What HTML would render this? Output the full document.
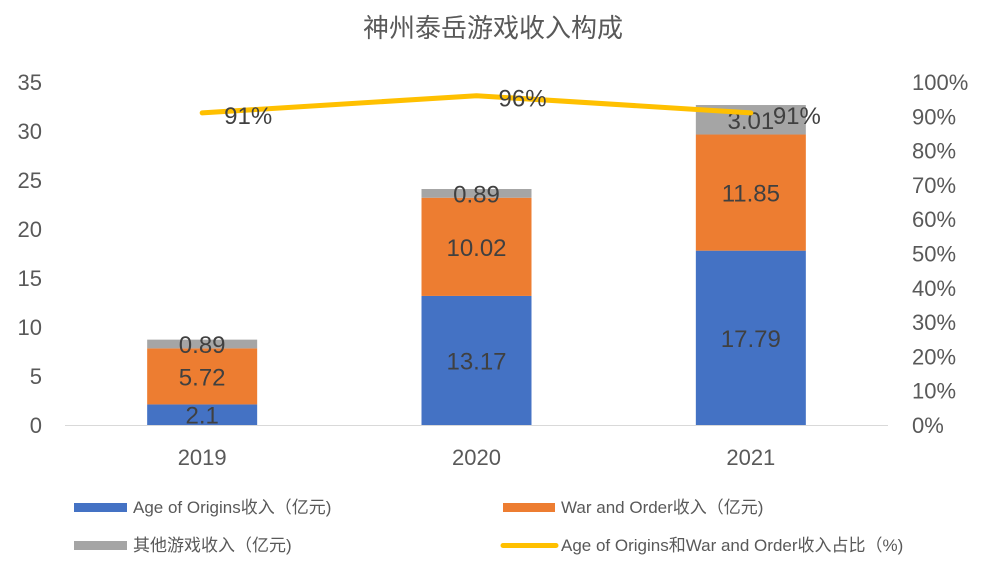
<!DOCTYPE html>
<html><head><meta charset="utf-8">
<style>
body{margin:0;background:#fff;}
svg text{font-family:"Liberation Sans","Noto Sans CJK SC",sans-serif;}
</style></head>
<body>
<svg id="chart" width="981" height="564" xmlns="http://www.w3.org/2000/svg">
<rect width="981" height="564" fill="#fff"/>
<text x="493" y="37" text-anchor="middle" font-size="26" fill="#595959">神州泰岳游戏收入构成</text>
<g id="axes"></g>
<g id="bars"></g>
<g id="line"></g>
<g id="legend">
<rect x="74" y="503" width="53" height="9" fill="#4472C4"/>
<text x="133" y="513" font-size="17" fill="#595959">Age of Origins收入（亿元)</text>
<rect x="503" y="503" width="52" height="9" fill="#ED7D31"/>
<text x="561" y="513" font-size="17" fill="#595959">War and Order收入（亿元)</text>
<rect x="74" y="541" width="53" height="9" fill="#A5A5A5"/>
<text x="133" y="551" font-size="17" fill="#595959">其他游戏收入（亿元)</text>
<line x1="503" y1="545.5" x2="556" y2="545.5" stroke="#FFC000" stroke-width="5" stroke-linecap="round"/>
<text x="561" y="551" font-size="17" fill="#595959">Age of Origins和War and Order收入占比（%)</text>
</g>
</svg>
<script>
const categories = ["2019","2020","2021"];
const ageOfOrigins = [2.1, 13.17, 17.79];
const warAndOrder = [5.72, 10.02, 11.85];
const otherGames = [0.89, 0.89, 3.01];
const sharePct = [91, 96, 91];
const leftTicks = [0,5,10,15,20,25,30,35];
const rightTicks = [0,10,20,30,40,50,60,70,80,90,100];

const NS="http://www.w3.org/2000/svg";
const x0=65, x1=888, yBase=425, yTop=82;
const yL=v=>yBase-(v/35)*(yBase-yTop);
const yR=v=>yBase-(v/100)*(yBase-yTop);
const band=(x1-x0)/categories.length;
const xC=i=>x0+band*(i+0.5);
const barW=110;
function mk(tag,attrs,parent,text){const e=document.createElementNS(NS,tag);for(const k in attrs)e.setAttribute(k,attrs[k]);if(text!==undefined)e.textContent=text;parent.appendChild(e);return e;}
const axes=document.getElementById('axes');
leftTicks.forEach(t=>{const e=mk('text',{x:42,y:yL(t)+8,'text-anchor':'end','font-size':22,fill:'#595959'},axes,String(t));

});
rightTicks.forEach(t=>{const e=mk('text',{x:912,y:yR(t)+8,'font-size':22,fill:'#595959'},axes,t+'%');

});
const ax=mk('line',{x1:x0,y1:yBase+0.5,x2:x1,y2:yBase+0.5,stroke:'#D9D9D9','stroke-width':1},axes);


categories.forEach((c,i)=>{const e=mk('text',{x:xC(i),y:465,'text-anchor':'middle','font-size':22,fill:'#595959'},axes,c);

});
const bars=document.getElementById('bars');
const series=[[ageOfOrigins,'#4472C4','age-of-origins'],[warAndOrder,'#ED7D31','war-and-order'],[otherGames,'#A5A5A5','other-games']];
categories.forEach((c,i)=>{let acc=0;
series.forEach(([arr,col,nm])=>{const v=arr[i];const yt=yL(acc+v),yb=yL(acc);
const r=mk('rect',{x:xC(i)-barW/2,y:yt,width:barW,height:yb-yt,fill:col},bars);


const t=mk('text',{x:xC(i),y:(yt+yb)/2+9,'text-anchor':'middle','font-size':24,fill:'#404040'},bars,String(v));


acc+=v;});});
const lg=document.getElementById('line');
const pts=sharePct.map((v,i)=>xC(i)+','+yR(v)).join(' ');
const pl=mk('polyline',{points:pts,fill:'none',stroke:'#FFC000','stroke-width':5,'stroke-linejoin':'round','stroke-linecap':'round'},lg);


sharePct.forEach((v,i)=>{const t=mk('text',{x:xC(i)+22,y:yR(v)+11,'font-size':24,fill:'#404040'},lg,v+'%');

});
</script>
</body></html>
